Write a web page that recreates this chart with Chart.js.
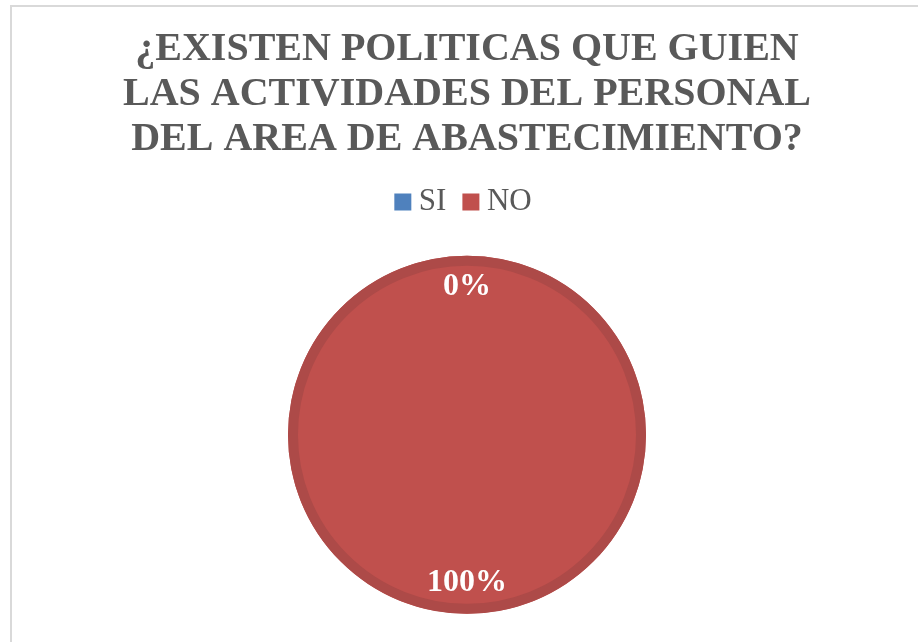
<!DOCTYPE html>
<html>
<head>
  <meta charset="UTF-8">
  <title>Politicas abastecimiento</title>
  <script src="https://cdn.jsdelivr.net/npm/chart.js@4.4.1/dist/chart.umd.min.js"></script>
  <style>
    html, body { margin: 0; padding: 0; background: #fff; overflow: hidden; }
    #wrap { position: relative; width: 918px; height: 642px; }
    #frame { position: absolute; left: 10px; top: 5px; width: 1000px; height: 700px;
             border-left: 2px solid #d9d9d9; border-top: 2px solid #d9d9d9; }
    #myChart { position: absolute; left: 0; top: 0; }
  </style>
</head>
<body>
<div id="wrap">
  <div id="frame"></div>
  <canvas id="myChart" width="918" height="642"></canvas>
</div>

<script>
  // chart data
  var titleLines = ['¿EXISTEN POLITICAS QUE GUIEN', 'LAS ACTIVIDADES DEL PERSONAL', 'DEL AREA DE ABASTECIMIENTO?'];
  var categories = ['SI', 'NO'];
  var percents = [0, 100];
  var fills = ['#4f81bd', '#c0504d'];
  var rims = ['#3f6a9c', '#ad4a48'];

  // darker ring inside the edge of each slice (avoids the radial seam of a 100% slice)
  var rimPlugin = {
    id: 'rim',
    afterDatasetsDraw: function (chart) {
      var ctx = chart.ctx;
      chart.getDatasetMeta(0).data.forEach(function (arc, i) {
        var p = arc.getProps(['x', 'y', 'startAngle', 'endAngle', 'outerRadius']);
        if (p.endAngle - p.startAngle <= 0) return;
        ctx.save();
        ctx.strokeStyle = rims[i];
        ctx.lineWidth = 10;
        ctx.beginPath();
        ctx.arc(p.x, p.y, p.outerRadius - 5, p.startAngle, p.endAngle);
        ctx.stroke();
        ctx.restore();
      });
    }
  };

  // percent labels near the outer edge
  var labelPlugin = {
    id: 'pctLabels',
    afterDatasetsDraw: function (chart) {
      var ctx = chart.ctx;
      chart.getDatasetMeta(0).data.forEach(function (arc, i) {
        var p = arc.getProps(['x', 'y', 'startAngle', 'endAngle', 'outerRadius']);
        var mid = (p.startAngle + p.endAngle) / 2;
        var r = p.outerRadius - 31;
        ctx.save();
        ctx.fillStyle = '#ffffff';
        ctx.font = 'bold 32px "Liberation Serif", serif';
        ctx.textAlign = 'center';
        ctx.textBaseline = 'middle';
        ctx.fillText(percents[i] + '%', p.x + Math.cos(mid) * r, p.y + Math.sin(mid) * r);
        ctx.restore();
      });
    }
  };

  var ctx = document.getElementById('myChart');
  var myChart = new Chart(ctx, {
    type: 'pie',
    data: {
      labels: categories,
      datasets: [{
        data: percents,
        backgroundColor: fills,
        borderWidth: 0,
        radius: 179
      }]
    },
    options: {
      responsive: false,
      animation: false,
      layout: { padding: { left: 16, right: 0, top: 0, bottom: 0 } },
      plugins: {
        title: {
          display: true,
          text: titleLines,
          color: '#595959',
          font: { family: '"Liberation Serif", serif', size: 40, weight: 'bold', lineHeight: 1.13 },
          padding: { top: 27, bottom: 0 }
        },
        legend: {
          position: 'top',
          labels: {
            color: '#595959',
            font: { family: '"Liberation Serif", serif', size: 31 },
            usePointStyle: true,
            pointStyle: 'rect',
            boxWidth: 1,
            boxHeight: 17,
            padding: 24
          }
        },
        tooltip: { enabled: false }
      }
    },
    plugins: [rimPlugin, labelPlugin]
  });
</script>
</body>
</html>
